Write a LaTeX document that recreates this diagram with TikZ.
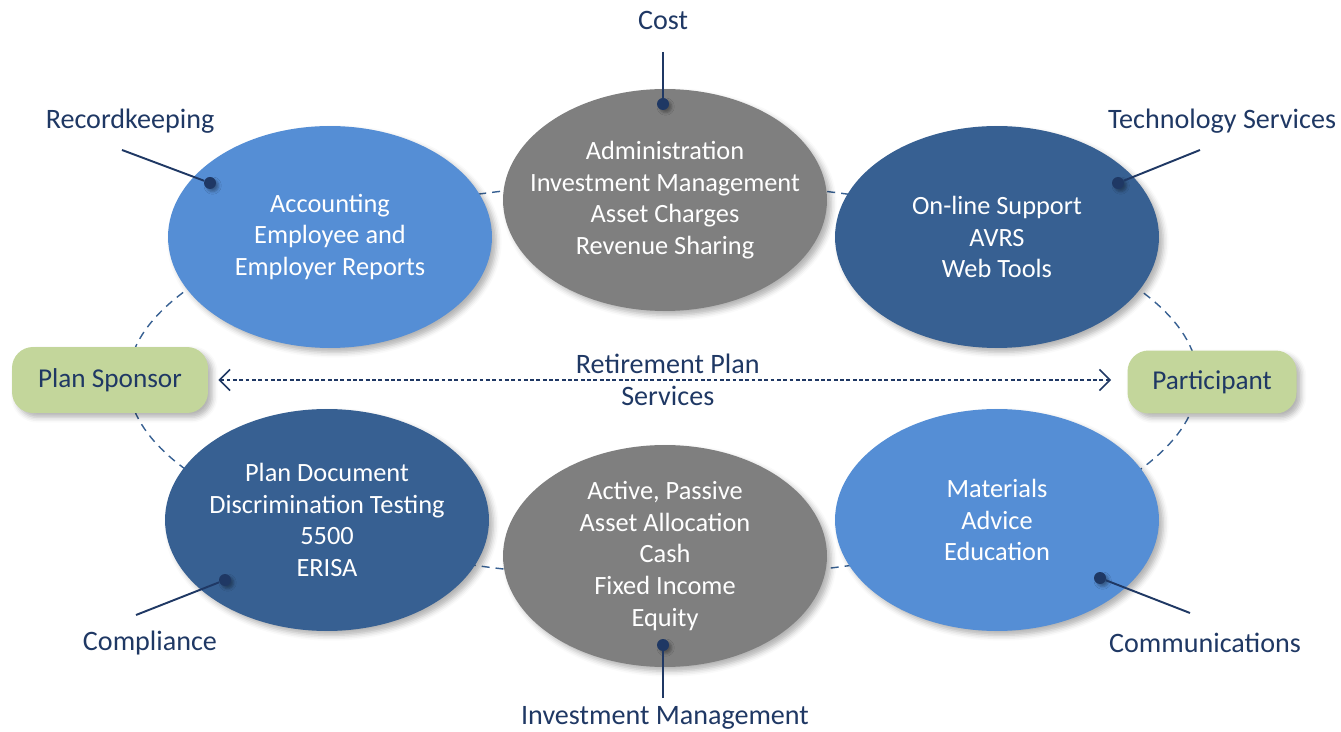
\documentclass[tikz,border=0pt]{standalone}
\usepackage{fontspec}
\setmainfont{Carlito}
\usetikzlibrary{shapes.geometric,shadows.blur,arrows.meta}

\definecolor{lightblue}{HTML}{558ED5}
\definecolor{darkblue}{HTML}{376092}
\definecolor{midgrey}{HTML}{7F7F7F}
\definecolor{sage}{HTML}{C3D69B}
\definecolor{navy}{HTML}{1F3864}

\begin{document}
\begin{tikzpicture}[x=0.02cm,y=-0.02cm,
    soft/.style={blur shadow={shadow xshift=2.5pt,shadow yshift=-2.5pt,shadow blur radius=3pt,shadow opacity=30}},
    oval/.style={ellipse,soft,minimum width=6.48cm,minimum height=4.44cm,inner xsep=-1cm,inner ysep=-0.6cm,
        text=white,align=center,font=\fontsize{15}{18}\selectfont},
    pill/.style={rounded corners=0.42cm,soft,fill=sage,text=navy,inner sep=0pt,
        font=\fontsize{15.5}{18}\selectfont},
    tag/.style={text=navy,align=center,font=\fontsize{16}{18}\selectfont},
    pin/.style={circle,fill=navy,minimum size=0.24cm,inner sep=0pt,
        blur shadow={shadow xshift=1.5pt,shadow yshift=-1.5pt,shadow blur radius=1.5pt,shadow opacity=35}},
    lead/.style={navy,line width=1.1pt}]
    \useasboundingbox (0,0) rectangle (1341,732);

    % dashed ring behind everything
    \draw[darkblue,line width=0.8pt,dash pattern=on 0.16cm off 0.12cm]
        (663,380) ellipse [x radius=10.7cm,y radius=3.96cm];

    % the six service groups
    \node[oval,fill=lightblue] (acct) at (330,237) {Accounting\\Employee and\\Employer Reports};
    \node[oval,fill=midgrey] (cost) at (665,200) {Administration\\Investment Management\\Asset Charges\\Revenue Sharing};
    \node[oval,fill=darkblue] (tech) at (997,237) {On-line Support\\AVRS\\Web Tools};
    \node[oval,fill=darkblue] (comp) at (327,520) {Plan Document\\Discrimination Testing\\5500\\ERISA};
    \node[oval,fill=midgrey] (invest) at (665,556) {Active, Passive\\Asset Allocation\\Cash\\Fixed Income\\Equity};
    \node[oval,fill=lightblue] (comm) at (997,520) {Materials\\Advice\\Education};

    % the two parties
    \node[pill,minimum width=3.92cm,minimum height=1.32cm] (sponsor) at (110,380) {Plan Sponsor};
    \node[pill,minimum width=3.38cm,minimum height=1.26cm] (part) at (1212,382) {Participant};
    \draw[navy,line width=0.9pt,dash pattern=on 2.2pt off 1.4pt,<->,>={Straight Barb[length=6pt,width=12pt]},
        shorten <=0.2cm,shorten >=0.32cm]
        (sponsor.east) -- (sponsor.east -| part.west)
        node[midway,tag] (rps) {Retirement Plan\\Services};

    % labels with their pins
    \node[tag] (lcost) at (663,20) {Cost};
    \node[tag] (lrec) at (130,121) {Recordkeeping};
    \node[tag] (ltech) at (1222,121) {Technology Services};
    \node[tag] (lcomp) at (150,643) {Compliance};
    \node[tag] (lcomm) at (1205,643) {Communications};
    \node[tag] (linv) at (665,718) {Investment Management};

    \coordinate (ecost) at (663,52);
    \coordinate (erec) at (122,150);
    \coordinate (etech) at (1200,150);
    \coordinate (ecomp) at (136,615);
    \coordinate (ecomm) at (1190,613);
    \coordinate (einv) at (663,698);

    \node[pin] (pcost) at (663,104) {};
    \node[pin] (prec) at (210,183) {};
    \node[pin] (ptech) at (1118,183) {};
    \node[pin] (pcomp) at (225,580) {};
    \node[pin] (pcomm) at (1100,578) {};
    \node[pin] (pinv) at (663,645) {};

    \draw[lead] (ecost) -- (pcost);
    \draw[lead] (erec) -- (prec);
    \draw[lead] (etech) -- (ptech);
    \draw[lead] (ecomp) -- (pcomp);
    \draw[lead] (ecomm) -- (pcomm);
    \draw[lead] (einv) -- (pinv);
\end{tikzpicture}
\end{document}
